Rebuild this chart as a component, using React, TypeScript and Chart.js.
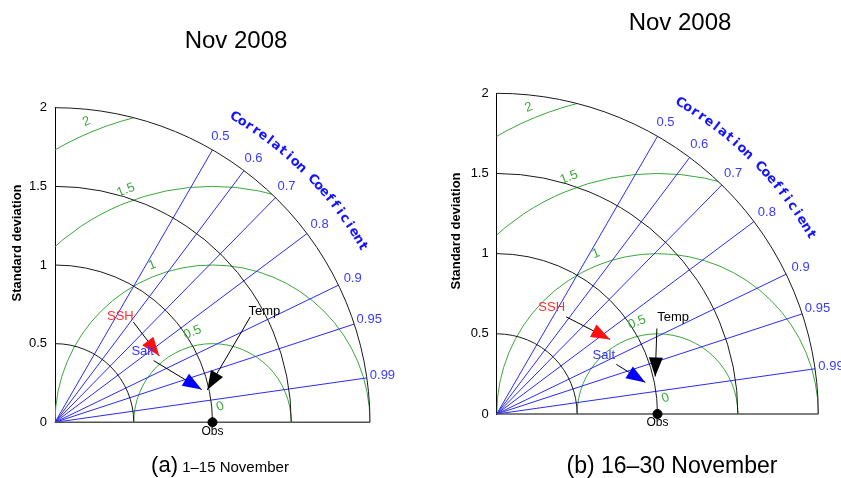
import React, { useEffect, useRef } from "react";
import { Chart, registerables } from "chart.js";

Chart.register(...registerables);

// ---------- data ----------
const MODEL_NAMES = ["SSH", "Salt", "Temp"];
// panel (a) 1–15 November
const STD_A = [0.785, 0.954, 0.989];
const CORR_A = [0.844, 0.976, 0.978];
// panel (b) 16–30 November
const STD_B = [0.845, 0.945, 1.013];
const CORR_B = [0.835, 0.978, 0.973];

const OBS_STD = 1.0;
const STD_TICKS = [0, 0.5, 1, 1.5, 2];
const STD_ARCS = [0.5, 1, 1.5, 2];
const RMS_ARCS = [0.5, 1, 1.5, 2];
const RMS_LABELS = ["0", "0.5", "1", "1.5", "2"];
const CORR_TICKS = [0.5, 0.6, 0.7, 0.8, 0.9, 0.95, 0.99];
const CORR_TITLE = "Correlation Coefficient";
const Y_TITLE = "Standard deviation";
const TITLE = "Nov 2008";

// ---------- styles / layout ----------
const FONT = '"Liberation Sans", Arial, Helvetica, sans-serif';
const MODEL_COLORS = ["#ff1010", "#0000ff", "#000000"];
const LABEL_COLORS = ["#ff3030", "#3535ff", "#000000"];
const GREEN = "#3aa83a";
const BLUE = "#2a2aff";
const BLUE_TEXT = "#3a3aff";
const TITLE_BLUE = "#1414ff";
const RMS_LABEL_POS = [
  [1.05, 0.1],
  [0.873, 0.572],
  [0.617, 1.0],
  [0.45, 1.476],
  [0.2, 1.912],
];

const PANEL_A = {
  left: 0,
  w: 420,
  h: 478,
  padding: { left: 0, right: 50, top: 107.7, bottom: 55.7 },
  axisW: 55,
  std: STD_A,
  corr: CORR_A,
  labelOff: [[-39, -40], [-59, -38], [57, -78]],
  arrowFrom: [[-26, -34], [-48, -29], [43, -73]],
  yTitle: [17, 243],
};
const PANEL_B = {
  left: 420,
  w: 421,
  h: 478,
  padding: { left: 0, right: 22.7, top: 93.3, bottom: 64 },
  axisW: 76.7,
  std: STD_B,
  corr: CORR_B,
  labelOff: [[-58.5, -31.6], [-41.5, -27], [18, -59]],
  arrowFrom: [[-44, -22.6], [-29, -18], [1.7, -48]],
  yTitle: [36.7, 231],
};

function toXY(std: number, corr: number) {
  return { x: std * corr, y: std * Math.sqrt(Math.max(0, 1 - corr * corr)) };
}

function makeTaylorPlugin(cfg: any) {
  return {
    id: "taylor",
    beforeDatasetsDraw(chart: any) {
      const ctx = chart.ctx as CanvasRenderingContext2D;
      const xs = chart.scales.x;
      const ys = chart.scales.y;
      const px = (v: number) => xs.getPixelForValue(v);
      const py = (v: number) => ys.getPixelForValue(v);
      const ox = px(0);
      const oy = py(0);
      const kx = px(1) - ox;
      const ky = oy - py(1);
      const rMax = 2;
      ctx.save();

      // RMS (green) circles, clipped to quadrant
      ctx.save();
      ctx.beginPath();
      ctx.moveTo(ox, oy);
      ctx.ellipse(ox, oy, rMax * kx, rMax * ky, 0, -Math.PI / 2, 0);
      ctx.closePath();
      ctx.clip();
      ctx.strokeStyle = GREEN;
      ctx.lineWidth = 1;
      for (const r of RMS_ARCS) {
        ctx.beginPath();
        ctx.ellipse(px(OBS_STD), oy, r * kx, r * ky, 0, Math.PI, 2 * Math.PI);
        ctx.stroke();
      }
      ctx.restore();

      // correlation rays
      ctx.strokeStyle = BLUE;
      ctx.lineWidth = 1;
      for (const c of CORR_TICKS) {
        const s = Math.sqrt(1 - c * c);
        ctx.beginPath();
        ctx.moveTo(ox, oy);
        ctx.lineTo(px(rMax * c), py(rMax * s));
        ctx.stroke();
      }

      // std arcs
      ctx.strokeStyle = "#1a1a1a";
      ctx.lineWidth = 1;
      for (const r of STD_ARCS) {
        ctx.beginPath();
        ctx.ellipse(ox, oy, r * kx, r * ky, 0, -Math.PI / 2, 0);
        ctx.stroke();
      }

      // bottom axis
      ctx.strokeStyle = "#555";
      ctx.lineWidth = 1.5;
      ctx.beginPath();
      ctx.moveTo(ox, oy);
      ctx.lineTo(px(rMax), oy);
      ctx.stroke();

      // correlation tick labels
      ctx.fillStyle = BLUE_TEXT;
      ctx.font = `13px ${FONT}`;
      ctx.textAlign = "center";
      ctx.textBaseline = "middle";
      for (const c of CORR_TICKS) {
        const s = Math.sqrt(1 - c * c);
        ctx.fillText(String(c), px(2.1 * c), py(2.1 * s));
      }

      // curved "Correlation Coefficient"
      ctx.fillStyle = TITLE_BLUE;
      ctx.font = `bold 13px "DejaVu Sans", ${FONT}`;
      const chars = CORR_TITLE.split("");
      for (let i = 0; i < chars.length; i++) {
        const a = ((59.5 - i * 1.35) * Math.PI) / 180;
        const x = px(2.25 * Math.cos(a));
        const y = py(2.25 * Math.sin(a));
        ctx.save();
        ctx.translate(x, y);
        ctx.rotate(Math.PI / 2 - a);
        ctx.fillText(chars[i], 0, 0);
        ctx.restore();
      }

      // RMS labels
      ctx.fillStyle = GREEN;
      ctx.font = `13px ${FONT}`;
      for (let i = 0; i < RMS_LABELS.length; i++) {
        const [lx, ly] = RMS_LABEL_POS[i];
        ctx.save();
        ctx.translate(px(lx), py(ly));
        ctx.rotate((-22 * Math.PI) / 180);
        ctx.fillText(RMS_LABELS[i], 0, 0);
        ctx.restore();
      }

      // y-axis title
      ctx.fillStyle = "#000";
      ctx.font = `bold 13px ${FONT}`;
      ctx.save();
      ctx.translate(cfg.yTitle[0], cfg.yTitle[1]);
      ctx.rotate(-Math.PI / 2);
      ctx.fillText(Y_TITLE, 0, 0);
      ctx.restore();

      ctx.restore();
    },
    afterDatasetsDraw(chart: any) {
      const ctx = chart.ctx as CanvasRenderingContext2D;
      const meta = chart.getDatasetMeta(0);
      ctx.save();
      meta.data.forEach((pt: any, i: number) => {
        const tx = pt.x;
        const ty = pt.y;
        const fx = tx + cfg.arrowFrom[i][0];
        const fy = ty + cfg.arrowFrom[i][1];
        // arrow shaft
        ctx.strokeStyle = "#000";
        ctx.lineWidth = 1;
        ctx.beginPath();
        ctx.moveTo(fx, fy);
        ctx.lineTo(tx, ty);
        ctx.stroke();
        // head
        const ang = Math.atan2(ty - fy, tx - fx);
        const L = 19;
        const W = 7;
        const bx = tx - L * Math.cos(ang);
        const by = ty - L * Math.sin(ang);
        const nx = -Math.sin(ang);
        const ny = Math.cos(ang);
        ctx.fillStyle = MODEL_COLORS[i];
        ctx.beginPath();
        ctx.moveTo(tx, ty);
        ctx.lineTo(bx + W * nx, by + W * ny);
        ctx.lineTo(bx - W * nx, by - W * ny);
        ctx.closePath();
        ctx.fill();
        // label
        ctx.fillStyle = LABEL_COLORS[i];
        ctx.font = `13px ${FONT}`;
        ctx.textAlign = "center";
        ctx.textBaseline = "middle";
        ctx.fillText(MODEL_NAMES[i], tx + cfg.labelOff[i][0], ty + cfg.labelOff[i][1]);
      });
      // Obs label
      const obs = chart.getDatasetMeta(1).data[0];
      ctx.fillStyle = "#000";
      ctx.font = `12px ${FONT}`;
      ctx.textAlign = "center";
      ctx.textBaseline = "top";
      ctx.fillText("Obs", obs.x, obs.y + 3);
      ctx.restore();
    },
  };
}

function TaylorPanel({ cfg }: { cfg: any }) {
  const ref = useRef<HTMLCanvasElement>(null);
  useEffect(() => {
    if (!ref.current) return;
    const pts = cfg.std.map((s: number, i: number) => toXY(s, cfg.corr[i]));
    const chart = new Chart(ref.current, {
      type: "scatter",
      data: {
        datasets: [
          {
            label: "Models",
            data: pts,
            pointRadius: 0,
            clip: false,
          } as any,
          {
            label: "Obs",
            data: [{ x: OBS_STD, y: 0 }],
            pointRadius: 4.5,
            pointBackgroundColor: "#000",
            pointBorderColor: "#000",
            clip: false,
          } as any,
        ],
      },
      options: {
        responsive: false,
        animation: false,
        events: [],
        layout: { padding: cfg.padding },
        plugins: {
          legend: { display: false },
          tooltip: { enabled: false },
          title: { display: false },
        },
        scales: {
          x: { type: "linear", min: 0, max: 2, display: false },
          y: {
            type: "linear",
            min: 0,
            max: 2,
            afterFit: (s: any) => {
              s.width = cfg.axisW;
            },
            afterBuildTicks: (s: any) => {
              s.ticks = STD_TICKS.map((v) => ({ value: v }));
            },
            ticks: {
              padding: 8,
              color: "#000",
              font: { family: FONT, size: 13 },
              callback: (v: any) => String(v),
            },
            grid: { display: false, drawTicks: false },
            border: { display: true, color: "#000", width: 1 },
          },
        },
      },
      plugins: [makeTaylorPlugin(cfg)],
    });
    return () => chart.destroy();
  }, [cfg]);
  return (
    <canvas
      ref={ref}
      width={cfg.w}
      height={cfg.h}
      style={{ position: "absolute", left: cfg.left, top: 0, width: cfg.w, height: cfg.h }}
    />
  );
}

const textStyle = (x: number, y: number, size: number): React.CSSProperties => ({
  position: "absolute",
  left: x,
  top: y,
  transform: "translate(-50%, -50%)",
  fontFamily: FONT,
  fontSize: size,
  color: "#000",
  whiteSpace: "nowrap",
  lineHeight: 1,
});

export default function App() {
  return (
    <div
      style={{
        position: "absolute",
        left: 0,
        top: 0,
        width: 841,
        height: 478,
        background: "#fff",
        overflow: "hidden",
      }}
    >
      <TaylorPanel cfg={PANEL_A} />
      <TaylorPanel cfg={PANEL_B} />
      <div style={textStyle(236, 40, 24)}>{TITLE}</div>
      <div style={textStyle(680, 22, 24)}>{TITLE}</div>
      <div style={textStyle(220, 465, 15)}>
        <span style={{ fontSize: 22 }}>(a)</span> 1–15 November
      </div>
      <div style={textStyle(672, 465, 23)}>(b) 16–30 November</div>
    </div>
  );
}
